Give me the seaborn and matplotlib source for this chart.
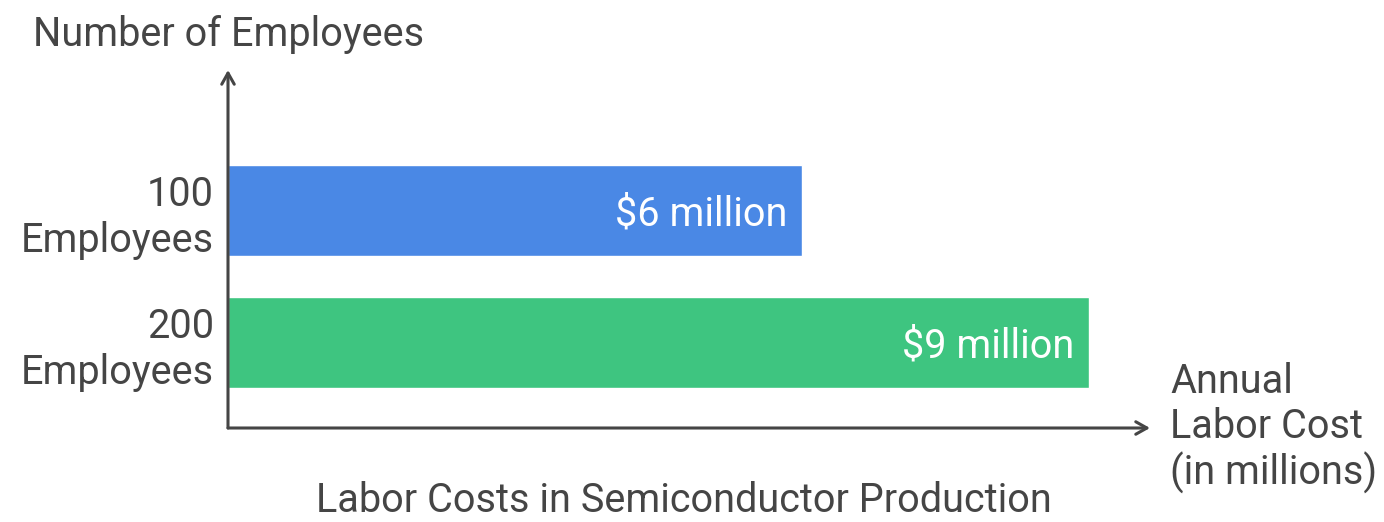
import matplotlib
matplotlib.use('Agg')
import matplotlib.pyplot as plt
import seaborn as sns
import pandas as pd

groups = ['100\nEmployees', '200\nEmployees']
costs = [6, 9]
bar_labels = ['$6 million', '$9 million']
bar_colors = ['#4a88e5', '#3ec580']

sns.set_style('white')
plt.rcParams['font.family'] = ['Roboto', 'DejaVu Sans']
text_color = '#454545'
fs = 28.5

df = pd.DataFrame({'group': groups, 'cost': costs})

fig = plt.figure(figsize=(13.84, 5.22), dpi=100)
ax = fig.add_axes([228 / 1384, 94 / 522, 922 / 1384, 358 / 522])

sns.barplot(data=df, x='cost', y='group', hue='group', palette=bar_colors,
            order=groups, width=0.69, legend=False, ax=ax, saturation=1)

ax.set_xlim(0, 922 / 95.7)
ax.set_ylim(1.648, -1.064)
for s in ax.spines.values():
    s.set_visible(False)
ax.set_xticks([])
ax.set_xlabel('')
ax.set_ylabel('')
ax.tick_params(axis='y', length=0, pad=10, labelsize=fs, labelcolor=text_color)
for lab in ax.get_yticklabels():
    lab.set_horizontalalignment('right')
    lab.set_multialignment('right')

# value labels inside bars
for i, (c, t) in enumerate(zip(costs, bar_labels)):
    ax.text(c - 0.16, i + 0.025, t, ha='right', va='center', color='white',
            fontsize=fs)

# axis arrows
arrow = dict(arrowstyle='->,head_length=0.8,head_width=0.45',
             color=text_color, lw=2.2, shrinkA=0, shrinkB=0)
ax.annotate('', xy=(1, 0), xytext=(0, 0), xycoords='axes fraction',
            arrowprops=arrow, annotation_clip=False)
ax.annotate('', xy=(0, 1), xytext=(0, 0), xycoords='axes fraction',
            arrowprops=arrow, annotation_clip=False)

fig.text(33 / 1384, 1 - 34 / 522, 'Number of Employees', ha='left',
         va='center', fontsize=fs, color=text_color)
fig.text(1170 / 1384, 94 / 522, 'Annual\nLabor Cost\n(in millions)',
         ha='left', va='center', fontsize=fs, color=text_color)
fig.text(684 / 1384, 1 - 500 / 522, 'Labor Costs in Semiconductor Production',
         ha='center', va='center', fontsize=fs, color=text_color)

fig.savefig('out.png', dpi=100)
